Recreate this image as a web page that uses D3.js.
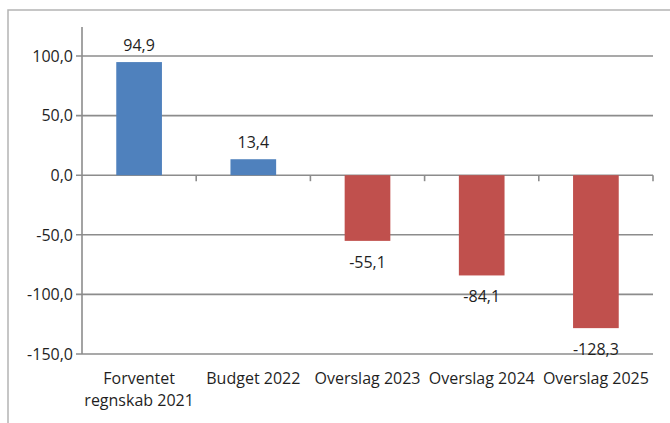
<!DOCTYPE html>
<html>
<head>
<meta charset="utf-8">
<script src="https://cdn.jsdelivr.net/npm/d3@7"></script>
<style>
  html, body { margin: 0; padding: 0; background: #fff; }
  svg { display: block; font-family: "Open Sans", "DejaVu Sans", sans-serif; }
</style>
</head>
<body>
<svg id="chart" width="670" height="423"></svg>
<script>
// Budget result per year (mio. kr.)
const categories = [
  ["Forventet", "regnskab 2021"],
  ["Budget 2022"],
  ["Overslag 2023"],
  ["Overslag 2024"],
  ["Overslag 2025"]
];
const values = [94.9, 13.4, -55.1, -84.1, -128.3];
const tickValues = [-150, -100, -50, 0, 50, 100];

const W = 670, H = 423;
const plot = { left: 82, right: 653, top: 27, bottom: 354 };
const fontSize = 16;
const textColor = "#1f1f1f";
const gridColor = "#8c8c8c";
const posColor = "#4f81bd";
const negColor = "#c0504d";

const fmt = v => d3.format(".1f")(v).replace(".", ",").replace("−", "-");

const svg = d3.select("#chart");

// outer frame (top and left edges visible)
svg.append("path")
  .attr("d", `M8,${H} V10 H${W}`)
  .attr("fill", "none")
  .attr("stroke", "#b4b4b4")
  .attr("stroke-width", 1.5);

const x = d3.scaleBand()
  .domain(d3.range(categories.length))
  .range([plot.left, plot.right])
  .paddingInner(0.6)
  .paddingOuter(0.3);

const y = d3.scaleLinear()
  .domain([-150, 100])
  .range([plot.bottom, 56]);

// horizontal gridlines
svg.append("g")
  .selectAll("line")
  .data(tickValues)
  .join("line")
  .attr("x1", plot.left - 6)
  .attr("x2", plot.right)
  .attr("y1", d => y(d))
  .attr("y2", d => y(d))
  .attr("stroke", gridColor)
  .attr("stroke-width", 1.6);

// vertical axis line
svg.append("line")
  .attr("x1", plot.left).attr("x2", plot.left)
  .attr("y1", plot.top).attr("y2", plot.bottom)
  .attr("stroke", gridColor)
  .attr("stroke-width", 1.6);

// y tick labels
svg.append("g")
  .selectAll("text")
  .data(tickValues)
  .join("text")
  .attr("x", plot.left - 9)
  .attr("y", d => y(d) + 5.7)
  .attr("text-anchor", "end")
  .attr("font-size", fontSize)
  .attr("fill", textColor)
  .text(d => fmt(d));

// category tick marks along the zero line
const step = x.step();
const boundaries = d3.range(categories.length + 1).map(i => plot.left + i * step);
svg.append("g")
  .selectAll("line")
  .data(boundaries.slice(1))
  .join("line")
  .attr("x1", d => d).attr("x2", d => d)
  .attr("y1", y(0)).attr("y2", y(0) + 6)
  .attr("stroke", gridColor)
  .attr("stroke-width", 1.6);

// bars
svg.append("g")
  .selectAll("rect")
  .data(values)
  .join("rect")
  .attr("x", (d, i) => x(i))
  .attr("width", x.bandwidth())
  .attr("y", d => y(Math.max(0, d)))
  .attr("height", d => Math.abs(y(d) - y(0)))
  .attr("fill", d => d >= 0 ? posColor : negColor);

// value labels
svg.append("g")
  .selectAll("text")
  .data(values)
  .join("text")
  .attr("x", (d, i) => x(i) + x.bandwidth() / 2)
  .attr("y", d => d >= 0 ? y(d) - 11 : y(d) + 27)
  .attr("text-anchor", "middle")
  .attr("font-size", fontSize)
  .attr("fill", textColor)
  .text(d => fmt(d));

// category labels
const catG = svg.append("g");
categories.forEach((lines, i) => {
  const t = catG.append("text")
    .attr("x", x(i) + x.bandwidth() / 2)
    .attr("y", 384)
    .attr("text-anchor", "middle")
    .attr("font-size", fontSize)
    .attr("fill", textColor);
  lines.forEach((ln, j) => {
    t.append("tspan")
      .attr("x", x(i) + x.bandwidth() / 2)
      .attr("dy", j === 0 ? 0 : 22)
      .text(ln);
  });
});
</script>
</body>
</html>
